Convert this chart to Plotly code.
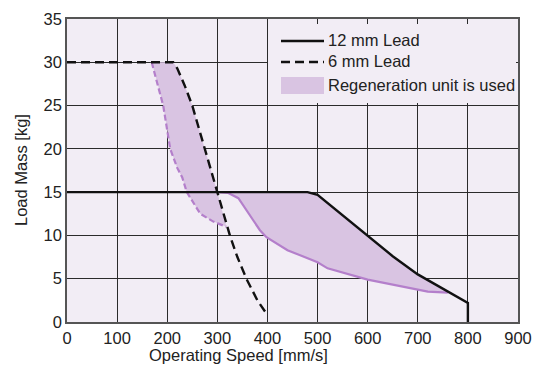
import plotly.graph_objects as go

# ---- data ----
lead12_x = [0, 480, 500, 550, 600, 650, 700, 750, 800, 800]
lead12_y = [15, 15, 14.7, 12.3, 9.9, 7.6, 5.5, 3.8, 2.2, 0]

lead6_x = [0, 212, 220, 235, 250, 275, 300, 325, 340, 358, 380, 400]
lead6_y = [30, 30, 29.3, 27.3, 25, 20, 15, 10, 7.5, 5, 2.5, 0.8]

regen6_x = [169, 181, 192, 199, 206, 220, 230, 239, 249, 266, 292, 318]
regen6_y = [30, 27.5, 25, 22.5, 20, 17.8, 16.7, 15, 14.1, 12.5, 11.6, 11]

regen12_x = [300, 322, 342, 365, 385, 398, 440, 500, 520, 600, 700, 720, 760]
regen12_y = [15, 14.9, 14.3, 12.3, 10.6, 9.8, 8.3, 6.9, 6.2, 4.9, 3.7, 3.5, 3.4]

x_ticks = [0, 100, 200, 300, 400, 500, 600, 700, 800, 900]
y_ticks = [0, 5, 10, 15, 20, 25, 30, 35]

legend_labels = ["12 mm Lead", "6 mm Lead", "Regeneration unit is used"]

# ---- styles ----
FONT = "Liberation Sans, Arial, sans-serif"
FS = 16.5
TXT = "#222222"
BG = "#F2EDF5"
FILL = "#D9C4E2"
PURPLE = "#B47FCB"
GRID = "#2b2b2b"

W, H = 534, 365
ML, MR, MT, MB = 67, 16, 19, 43
PW, PH = W - ML - MR, H - MT - MB


def px(x):
    return (x - ML) / PW


def py(y):
    return 1 - (y - MT) / PH


fig = go.Figure()

# upper regeneration region (6 mm lead)
up_x = [x for x in lead6_x if 212 <= x <= 300] + regen6_x[::-1]
up_y = [y for x, y in zip(lead6_x, lead6_y) if 212 <= x <= 300] + regen6_y[::-1]
fig.add_trace(go.Scatter(x=up_x, y=up_y, fill="toself", fillcolor=FILL,
                         mode="none", hoverinfo="skip", showlegend=False))

# lower regeneration region (12 mm lead)
lo_x = [regen12_x[0]] + [x for x in lead12_x if regen12_x[0] < x < regen12_x[-1]] + regen12_x[::-1]
lo_y = [regen12_y[0]] + [y for x, y in zip(lead12_x, lead12_y) if regen12_x[0] < x < regen12_x[-1]] + regen12_y[::-1]
fig.add_trace(go.Scatter(x=lo_x, y=lo_y, fill="toself", fillcolor=FILL,
                         mode="none", hoverinfo="skip", showlegend=False))

# purple boundaries
fig.add_trace(go.Scatter(x=regen6_x, y=regen6_y, mode="lines",
                         line=dict(color=PURPLE, width=2.2, dash="6px,3px"),
                         showlegend=False))
fig.add_trace(go.Scatter(x=regen12_x, y=regen12_y, mode="lines",
                         line=dict(color=PURPLE, width=2.2),
                         showlegend=False))

# black lines
fig.add_trace(go.Scatter(x=lead6_x, y=lead6_y, mode="lines",
                         line=dict(color="#111111", width=2.4, dash="9px,5px"),
                         showlegend=False))
fig.add_trace(go.Scatter(x=lead12_x, y=lead12_y, mode="lines",
                         line=dict(color="#111111", width=2.4),
                         showlegend=False))

# ---- manual legend ----
shapes = [
    dict(type="rect", xref="paper", yref="paper", x0=px(268), x1=px(516),
         y0=py(103), y1=py(24), fillcolor=BG, line=dict(width=0), layer="above"),
    dict(type="line", xref="paper", yref="paper", x0=px(281), x1=px(324),
         y0=py(41), y1=py(41), line=dict(color="#111111", width=2.4), layer="above"),
    dict(type="line", xref="paper", yref="paper", x0=px(281), x1=px(324),
         y0=py(62), y1=py(62), line=dict(color="#111111", width=2.4, dash="9px,5px"),
         layer="above"),
    dict(type="rect", xref="paper", yref="paper", x0=px(281), x1=px(324),
         y0=py(94), y1=py(77), fillcolor=FILL, line=dict(width=0), layer="above"),
]
annotations = []
for lab, yy in zip(legend_labels, [40, 61, 85]):
    annotations.append(dict(text=lab, xref="paper", yref="paper", x=px(326), y=py(yy),
                            xanchor="left", yanchor="middle", showarrow=False,
                            font=dict(family=FONT, size=FS, color=TXT)))

# axis titles
annotations.append(dict(text="Operating Speed [mm/s]", xref="paper", yref="paper",
                        x=px(238), y=py(355), xanchor="center", yanchor="middle",
                        showarrow=False, font=dict(family=FONT, size=FS, color=TXT)))
annotations.append(dict(text="Load Mass [kg]", xref="paper", yref="paper",
                        x=px(21), y=py(170), xanchor="center", yanchor="middle",
                        textangle=-90, showarrow=False,
                        font=dict(family=FONT, size=FS, color=TXT)))

axis_common = dict(showgrid=True, gridcolor=GRID, gridwidth=1.3, zeroline=False,
                   showline=True, linecolor="#555555", linewidth=1.5, mirror=True,
                   ticks="", tickfont=dict(family=FONT, size=FS, color=TXT),
                   automargin=False)

fig.update_layout(
    width=W, height=H,
    margin=dict(l=ML, r=MR, t=MT, b=MB, pad=0),
    paper_bgcolor="white", plot_bgcolor=BG,
    showlegend=False,
    shapes=shapes, annotations=annotations,
    xaxis=dict(range=[0, 900], tickvals=x_ticks, ticktext=[str(v) for v in x_ticks], **axis_common),
    yaxis=dict(range=[0, 35], tickvals=y_ticks, ticktext=[str(v) for v in y_ticks], **axis_common),
)

# remove the page's default body margin so the figure fills the window exactly
fig.write_html("out.html",
               config={"displayModeBar": False},
               post_script="document.body.style.margin='0';document.body.style.overflow='hidden';")
